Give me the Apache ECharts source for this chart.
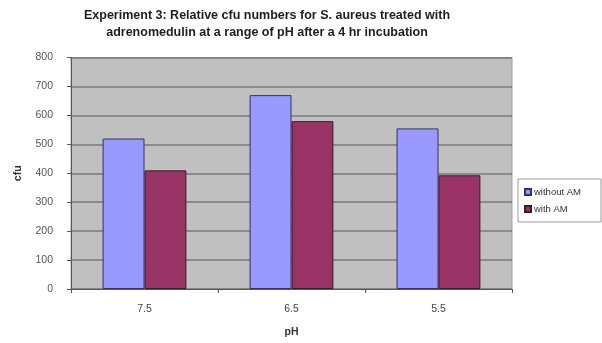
<!DOCTYPE html>
<html>
<head>
<meta charset="utf-8">
<script src="https://cdn.jsdelivr.net/npm/echarts@6/dist/echarts.min.js"></script>
<style>
  html, body { margin: 0; padding: 0; background: #ffffff; }
  #chart { width: 602px; height: 343px; }
</style>
</head>
<body>
<div id="chart"></div>
<script>
// pH levels tested
const categories = ['7.5', '6.5', '5.5'];
// colony-forming units after 4 hr incubation
const withoutAM = [520, 670, 555];
const withAM = [410, 580, 393];
const seriesNames = ['without AM', 'with AM'];
const yTicks = { min: 0, max: 800, interval: 100 };

const chart = echarts.init(document.getElementById('chart'), null, { renderer: 'canvas' });

const font = 'Liberation Sans, Arial, sans-serif';

chart.setOption({
  animation: false,
  backgroundColor: '#ffffff',
  title: {
    text: 'Experiment 3: Relative cfu numbers for S. aureus treated with\nadrenomedulin at a range of pH after a 4 hr incubation',
    left: 262,
    top: 2,
    textAlign: 'center',
    textStyle: {
      fontFamily: font,
      fontSize: 12.5,
      fontWeight: 'bold',
      color: '#1e1e1e',
      lineHeight: 17
    }
  },
  legend: {
    orient: 'vertical',
    left: 518,
    top: 179,
    padding: [8, 20, 8, 6],
    itemGap: 7,
    itemWidth: 6,
    itemHeight: 6,
    icon: 'rect',
    borderColor: '#999999',
    borderWidth: 1,
    textStyle: { fontFamily: font, fontSize: 9.5, color: '#333333', padding: [0, 0, 0, -2] },
    data: seriesNames
  },
  grid: {
    left: 71,
    right: 90,
    top: 57.5,
    bottom: 50,
    show: true,
    backgroundColor: '#c0c0c0',
    borderColor: '#a0a0a0',
    borderWidth: 1
  },
  xAxis: {
    type: 'category',
    data: categories,
    name: 'pH',
    nameLocation: 'middle',
    nameGap: 38,
    nameTextStyle: { fontFamily: font, fontSize: 10.5, fontWeight: 'bold', color: '#333333' },
    axisLine: { lineStyle: { color: '#555555', width: 1 } },
    axisTick: { show: true, length: 4, lineStyle: { color: '#555555' } },
    axisLabel: { fontFamily: font, fontSize: 10.5, color: '#444444', margin: 15 }
  },
  yAxis: {
    type: 'value',
    min: yTicks.min,
    max: yTicks.max,
    interval: yTicks.interval,
    name: 'cfu',
    nameLocation: 'middle',
    nameGap: 47,
    nameRotate: 90,
    nameTextStyle: { fontFamily: font, fontSize: 10.5, fontWeight: 'bold', color: '#333333' },
    axisLine: { show: true, lineStyle: { color: '#555555', width: 1 } },
    axisTick: { show: true, length: 4, lineStyle: { color: '#555555' } },
    axisLabel: { fontFamily: font, fontSize: 10.5, color: '#555555', margin: 18 },
    splitLine: { lineStyle: { color: '#7a7a7a', width: 1.5 } }
  },
  series: [
    {
      name: seriesNames[0],
      type: 'bar',
      data: withoutAM,
      barGap: '0%',
      barCategoryGap: '43%',
      itemStyle: { color: '#9999ff', borderColor: '#333366', borderWidth: 1 }
    },
    {
      name: seriesNames[1],
      type: 'bar',
      data: withAM,
      itemStyle: { color: '#993366', borderColor: '#3a1a33', borderWidth: 1 }
    }
  ]
});
</script>
</body>
</html>
